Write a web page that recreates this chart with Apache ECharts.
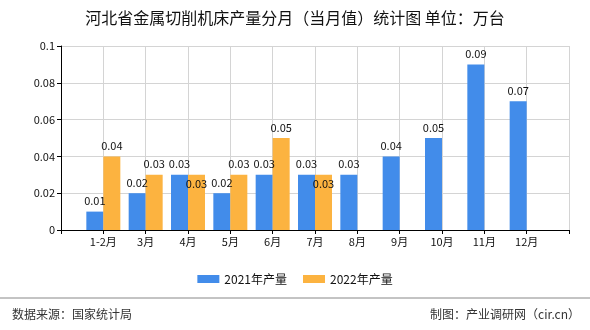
<!DOCTYPE html>
<html><head><meta charset="utf-8">
<script src="https://cdn.jsdelivr.net/npm/echarts@6/dist/echarts.min.js"></script>
<style>html,body{margin:0;padding:0;background:#fff}#c{width:590px;height:330px}</style>
</head><body><div id="c"></div>
<script>
var categories = ['1-2月','3月','4月','5月','6月','7月','8月','9月','10月','11月','12月'];
var values2021 = [0.01,0.02,0.03,0.02,0.03,0.03,0.03,0.04,0.05,0.09,0.07];
var values2022 = [0.04,0.03,0.03,0.03,0.05,0.03];
var yTicks = [0,0.02,0.04,0.06,0.08,0.1];

var cats = [''].concat(categories).concat(['']);
function pad(arr){ var d=[null]; for(var i=0;i<categories.length;i++){ d.push(i<arr.length?arr[i]:null);} d.push(null); return d; }
var d2021 = pad(values2021);
var d2022 = pad(values2022).map(function(v,i){
  if(i===3||i===6){ return {value:v,label:{offset:[0,20]}}; }
  return v;
});
var font = '"Noto Sans CJK SC", sans-serif';
var chart = echarts.init(document.getElementById('c'));
chart.setOption({
  animation:false,
  textStyle:{fontFamily:font},
  title:{text:'河北省金属切削机床产量分月（当月值）统计图 单位：万台',left:'center',top:5,
    textStyle:{fontSize:16,fontWeight:'normal',color:'#111',fontFamily:font}},
  grid:{left:61,right:21,top:46,bottom:100},
  legend:{top:268,left:'center',itemWidth:22,itemHeight:8,itemGap:16,icon:'rect',
    textStyle:{fontSize:12,color:'#111',fontFamily:font},
    data:['2021年产量','2022年产量']},
  xAxis:{type:'category',data:cats,boundaryGap:false,
    axisLine:{lineStyle:{color:'#000'}},
    axisTick:{show:true,lineStyle:{color:'#000'},length:4},
    axisLabel:{color:'#111',fontSize:11,margin:6,interval:0},
    splitLine:{show:true,lineStyle:{color:'#d4d4d4'}}},
  yAxis:{type:'value',min:yTicks[0],max:yTicks[yTicks.length-1],interval:0.02,
    axisLine:{show:true,lineStyle:{color:'#000'}},
    axisTick:{show:true,lineStyle:{color:'#000'},length:4},
    axisLabel:{color:'#111',fontSize:11,margin:6},
    splitLine:{show:true,lineStyle:{color:'#d4d4d4'}}},
  series:[
    {name:'2021年产量',type:'bar',data:d2021,barWidth:17,barGap:'0%',
     itemStyle:{color:'#428CEA'},
     label:{show:true,position:'top',distance:5,color:'#111',fontSize:11}},
    {name:'2022年产量',type:'bar',data:d2022,barWidth:17,barGap:'0%',
     itemStyle:{color:'#FCB340'},
     label:{show:true,position:'top',distance:5,color:'#111',fontSize:11}}
  ],
  graphic:[
    {type:'line',shape:{x1:0,y1:298,x2:590,y2:298},style:{stroke:'#888',lineWidth:1}},
    {type:'text',left:12,top:308,style:{text:'数据来源：国家统计局',font:'12px '+font,fill:'#333'}},
    {type:'text',right:10,top:308,style:{text:'制图：产业调研网（cir.cn）',font:'12px '+font,fill:'#333'}}
  ]
});
</script></body></html>
